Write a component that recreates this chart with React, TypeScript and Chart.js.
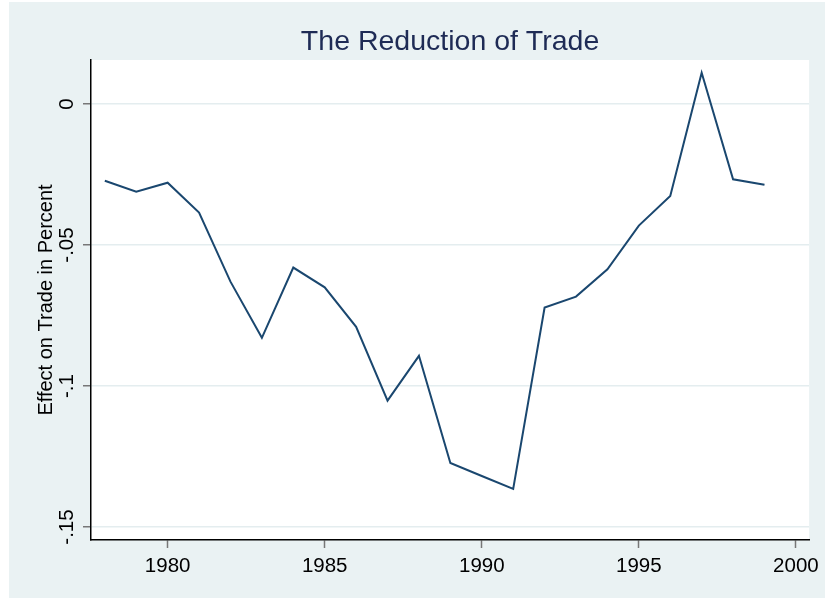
import React, { useEffect, useRef } from "react";
import { Chart, registerables } from "chart.js";

Chart.register(...registerables);

const years = [1978, 1979, 1980, 1981, 1982, 1983, 1984, 1985, 1986, 1987, 1988, 1989, 1990, 1991, 1992, 1993, 1994, 1995, 1996, 1997, 1998, 1999];
const effect = [-0.0272, -0.0311, -0.0279, -0.0385, -0.0630, -0.0829, -0.0580, -0.0650, -0.0790, -0.1052, -0.0893, -0.1273, -0.1319, -0.1365, -0.0722, -0.0683, -0.0586, -0.0431, -0.0326, 0.0111, -0.0267, -0.0286];
const xTicks = [1980, 1985, 1990, 1995, 2000];
const yTicks = [-0.15, -0.1, -0.05, 0];
const yTickLabels = ["-.15", "-.1", "-.05", "0"];

const titleText = "The Reduction of Trade";
const yTitleText = "Effect on Trade in Percent";

const FONT = "'Liberation Sans', Arial, Helvetica, sans-serif";

const bgPlugin = {
  id: "stataBg",
  beforeDraw(chart: any) {
    const { ctx, chartArea } = chart;
    ctx.save();
    ctx.fillStyle = "#EAF2F3";
    ctx.fillRect(9, 2, 816, 596);
    ctx.fillStyle = "#FFFFFF";
    ctx.fillRect(chartArea.left, chartArea.top, chartArea.right - chartArea.left, chartArea.bottom - chartArea.top);
    ctx.restore();
  },
};

export default function App() {
  const ref = useRef<HTMLCanvasElement | null>(null);

  useEffect(() => {
    if (!ref.current) return;
    const chart = new Chart(ref.current, {
      type: "line",
      data: {
        datasets: [
          {
            data: years.map((y, i) => ({ x: y, y: effect[i] })),
            borderColor: "#1A476F",
            borderWidth: 2,
            pointRadius: 0,
            tension: 0,
            fill: false,
          },
        ],
      },
      options: {
        responsive: false,
        animation: false,
        devicePixelRatio: 1,
        layout: { padding: { left: 0, right: 14, top: 0, bottom: 0 } },
        plugins: {
          legend: { display: false },
          tooltip: { enabled: false },
          title: {
            display: true,
            text: titleText,
            fullSize: false,
            color: "#1E2B55",
            font: { family: FONT, size: 28.5, weight: "normal" },
            padding: { top: 25, bottom: 0.8 },
          },
        },
        scales: {
          x: {
            type: "linear",
            min: 1977.56,
            max: 2000.42,
            afterBuildTicks: (s: any) => {
              s.ticks = xTicks.map((v) => ({ value: v }));
            },
            afterFit: (s: any) => {
              s.height = 60;
            },
            ticks: {
              autoSkip: false,
              maxRotation: 0,
              padding: 6,
              color: "#000",
              font: { family: FONT, size: 20.5 },
              callback: (v: any) => String(v),
            },
            grid: {
              drawOnChartArea: false,
              tickLength: 8,
              tickColor: "#777",
              tickWidth: 1.5,
            },
            border: { color: "#000", width: 1.5 },
          },
          y: {
            type: "linear",
            min: -0.1546,
            max: 0.0156,
            afterBuildTicks: (s: any) => {
              s.ticks = yTicks.map((v) => ({ value: v }));
            },
            afterFit: (s: any) => {
              s.width = 91;
            },
            ticks: {
              autoSkip: false,
              minRotation: 90,
              maxRotation: 90,
              crossAlign: "center",
              padding: -2.2,
              color: "#000",
              font: { family: FONT, size: 20.5 },
              callback: (v: any) => {
                const i = yTicks.findIndex((t) => Math.abs(t - v) < 1e-9);
                return i >= 0 ? yTickLabels[i] : "";
              },
            },
            grid: {
              color: "#E4EDEF",
              lineWidth: 1.5,
              tickLength: 8,
              tickColor: "#777",
              tickWidth: 1.5,
            },
            border: { color: "#000", width: 1.5 },
            title: {
              display: true,
              text: yTitleText,
              color: "#000",
              font: { family: FONT, size: 20 },
              padding: { top: 34.5, bottom: 0 },
            },
          },
        },
      },
      plugins: [bgPlugin],
    } as any);
    return () => chart.destroy();
  }, []);

  return (
    <div style={{ position: "fixed", left: 0, top: 0, width: 825, height: 600, background: "#fff" }}>
      <canvas ref={ref} width={825} height={600} style={{ display: "block" }} />
    </div>
  );
}
